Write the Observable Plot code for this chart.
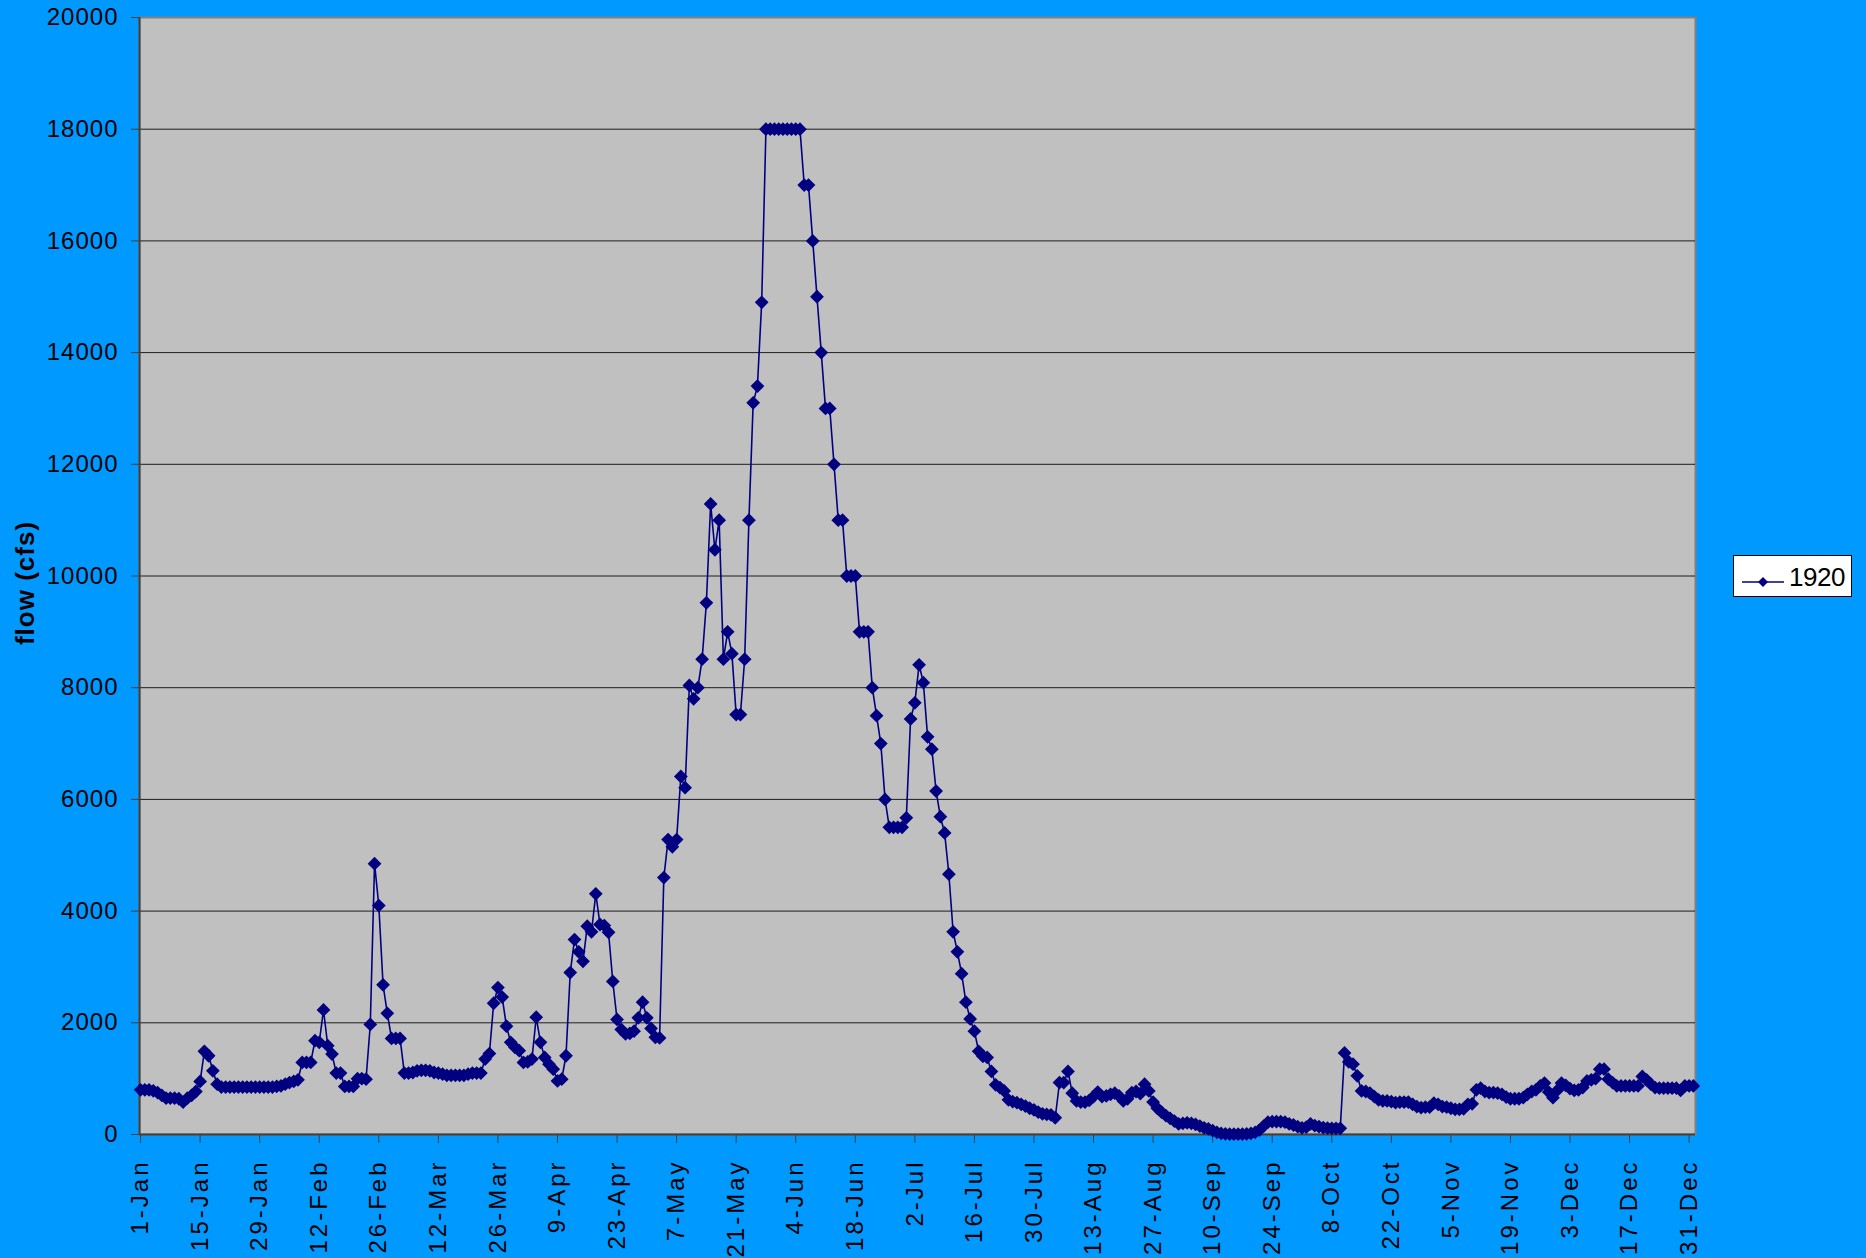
<!DOCTYPE html>
<html>
<head>
<meta charset="utf-8">
<script src="https://cdn.jsdelivr.net/npm/d3@7"></script>
<script src="https://cdn.jsdelivr.net/npm/@observablehq/plot@0.6"></script>
<style>
html, body { margin: 0; padding: 0; background: #0099FF; }
#wrap { position: relative; width: 1866px; height: 1258px; overflow: hidden; }
#legend { position: absolute; left: 1733px; top: 555px; width: 117px; height: 40px;
  background: #FFFFFF; border: 1px solid #000000; font-family: "Liberation Sans", Arial, sans-serif; }
#legend svg { position: absolute; left: 7px; top: 19px; }
#legend span { position: absolute; left: 55px; top: 6px; font-size: 26px; line-height: 30px; color: #000; letter-spacing: -0.5px; }
g[aria-label="x-axis tick label"] text { letter-spacing: 3px; }
g[aria-label="y-axis tick label"] text { letter-spacing: 1px; }
</style>
</head>
<body>
<div id="wrap"><div id="chart"></div><div id="legend"></div></div>
<script>
// ---- data (daily flow, cfs) ----
const seriesName = "1920";
const flowPart1 = [ // days 0-91
  800,800,800,780,750,700,650,650,650,640,580,650,700,770,950,1490,1410,1140,900,850,
  850,850,850,850,850,850,850,850,850,850,850,850,860,870,900,930,950,980,1290,1290,
  1290,1680,1650,2230,1590,1440,1100,1100,860,860,860,1000,1000,990,1970,4850,4100,2680,2170,1720,
  1720,1720,1100,1100,1110,1140,1150,1150,1140,1110,1100,1080,1060,1060,1060,1060,1060,1080,1100,1100,
  1100,1350,1450,2350,2630,2460,1940,1650,1560,1500,1290,1300
];
const flowPart2 = [ // days 92-182
  1350,2100,1650,1380,1260,1170,960,990,1410,2900,3490,3270,3100,3730,3630,4310,3760,3740,3620,2740,
  2060,1880,1800,1810,1850,2090,2370,2090,1900,1740,1730,4600,5280,5150,5280,6410,6210,8040,7800,8000,
  8510,9520,11290,10470,11000,8510,9000,8610,7520,7520,8510,11000,13100,13400,14900,18000,18000,18000,18000,18000,
  18000,18000,18000,18000,17000,17000,16000,15000,14000,13000,13000,12000,11000,11000,10000,10000,10000,9000,9000,9000,
  8000,7500,7000,6000,5500,5500,5500,5500,5670,7440,7730
];
const flowPart3 = [ // days 183-273
  8410,8090,7120,6900,6150,5690,5400,4660,3630,3270,2880,2370,2070,1850,1490,1400,1380,1130,890,840,
  780,620,590,570,540,510,470,440,400,370,360,350,300,930,930,1130,740,600,580,580,
  610,680,760,680,690,720,740,690,600,640,750,770,730,900,780,580,470,400,340,290,
  240,190,200,210,200,180,150,120,100,70,40,20,10,5,5,5,5,10,20,40,
  80,150,220,230,230,230,220,190,170,140,120
];
const flowPart4 = [ // days 274-365
  130,190,160,140,125,115,110,110,110,1460,1300,1260,1050,780,770,740,680,620,600,600,
  590,570,580,580,580,540,500,480,490,490,560,540,500,490,470,450,450,460,540,550,
  800,830,770,750,750,740,720,670,640,640,640,660,720,770,800,870,920,760,660,790,
  920,880,820,790,800,840,960,980,1000,1170,1170,990,930,870,870,870,870,870,870,1040,
  980,900,840,830,830,830,830,830,790,870,870,870
];
const flow = [...flowPart1, ...flowPart2, ...flowPart3, ...flowPart4];

const tickDays = [0,14,28,42,56,70,84,98,112,126,140,154,168,182,196,210,224,238,252,266,280,294,308,322,336,350,364];
const tickLabels = ["1-Jan","15-Jan","29-Jan","12-Feb","26-Feb","12-Mar","26-Mar","9-Apr","23-Apr","7-May","21-May","4-Jun","18-Jun","2-Jul","16-Jul","30-Jul","13-Aug","27-Aug","10-Sep","24-Sep","8-Oct","22-Oct","5-Nov","19-Nov","3-Dec","17-Dec","31-Dec"];
const yTicks = [0,2000,4000,6000,8000,10000,12000,14000,16000,18000,20000];
const yLabel = "flow (cfs)";

const data = flow.map((v, i) => ({day: i, flow: v}));
const xDomain = [-0.25, 365.5];

const chart = Plot.plot({
  width: 1866,
  height: 1258,
  marginLeft: 139,
  marginRight: 171,
  marginTop: 17,
  marginBottom: 124,
  style: {background: "#0099FF", fontFamily: "'Liberation Sans', Arial, sans-serif", fontSize: "24px", color: "#000"},
  x: {domain: xDomain, label: null},
  y: {domain: [0, 20000], label: null},
  marks: [
    Plot.frame({fill: "#C0C0C0", stroke: "#808080", strokeWidth: 2}),
    Plot.gridY(yTicks.filter(d => d > 0 && d < 20000), {stroke: "#000000", strokeOpacity: 0.85, strokeWidth: 1}),
    Plot.axisY(yTicks, {
      tickSize: 8, tickPadding: 13, fontSize: 24,
      tickFormat: d => String(d),
      label: yLabel, labelAnchor: "center", labelArrow: "none", labelOffset: 124,
      stroke: "#404040"
    }),
    Plot.axisX(tickDays, {
      tickSize: 9, tickPadding: 16, fontSize: 24, tickRotate: -90,
      tickFormat: d => tickLabels[tickDays.indexOf(d)],
      label: null, stroke: "#404040"
    }),
    Plot.ruleX([xDomain[0]], {stroke: "#404040", strokeWidth: 2}),
    Plot.ruleY([0], {stroke: "#404040", strokeWidth: 2}),
    Plot.line(data, {x: "day", y: "flow", stroke: "#000080", strokeWidth: 1.6}),
    Plot.dot(data, {x: "day", y: "flow", symbol: "diamond2", r: 6.2, fill: "#000080", stroke: "none"})
  ]
});
document.getElementById("chart").appendChild(chart);

// bold y-axis label, nudged down slightly
d3.select(chart).selectAll('g[aria-label="y-axis label"] text')
  .style("font-weight", "bold").style("font-size", "26px").style("letter-spacing", "1px")
  .attr("transform", function() { return "translate(0,7) " + (this.getAttribute("transform") || ""); });

// legend
const lg = document.getElementById("legend");
lg.innerHTML = '<svg width="46" height="14"><line x1="1" y1="7" x2="43" y2="7" stroke="#000080" stroke-width="1.6"/>' +
  '<path d="M22 2 L27 7 L22 12 L17 7 Z" fill="#000080"/></svg><span></span>';
lg.querySelector("span").textContent = seriesName;
</script>
</body>
</html>
